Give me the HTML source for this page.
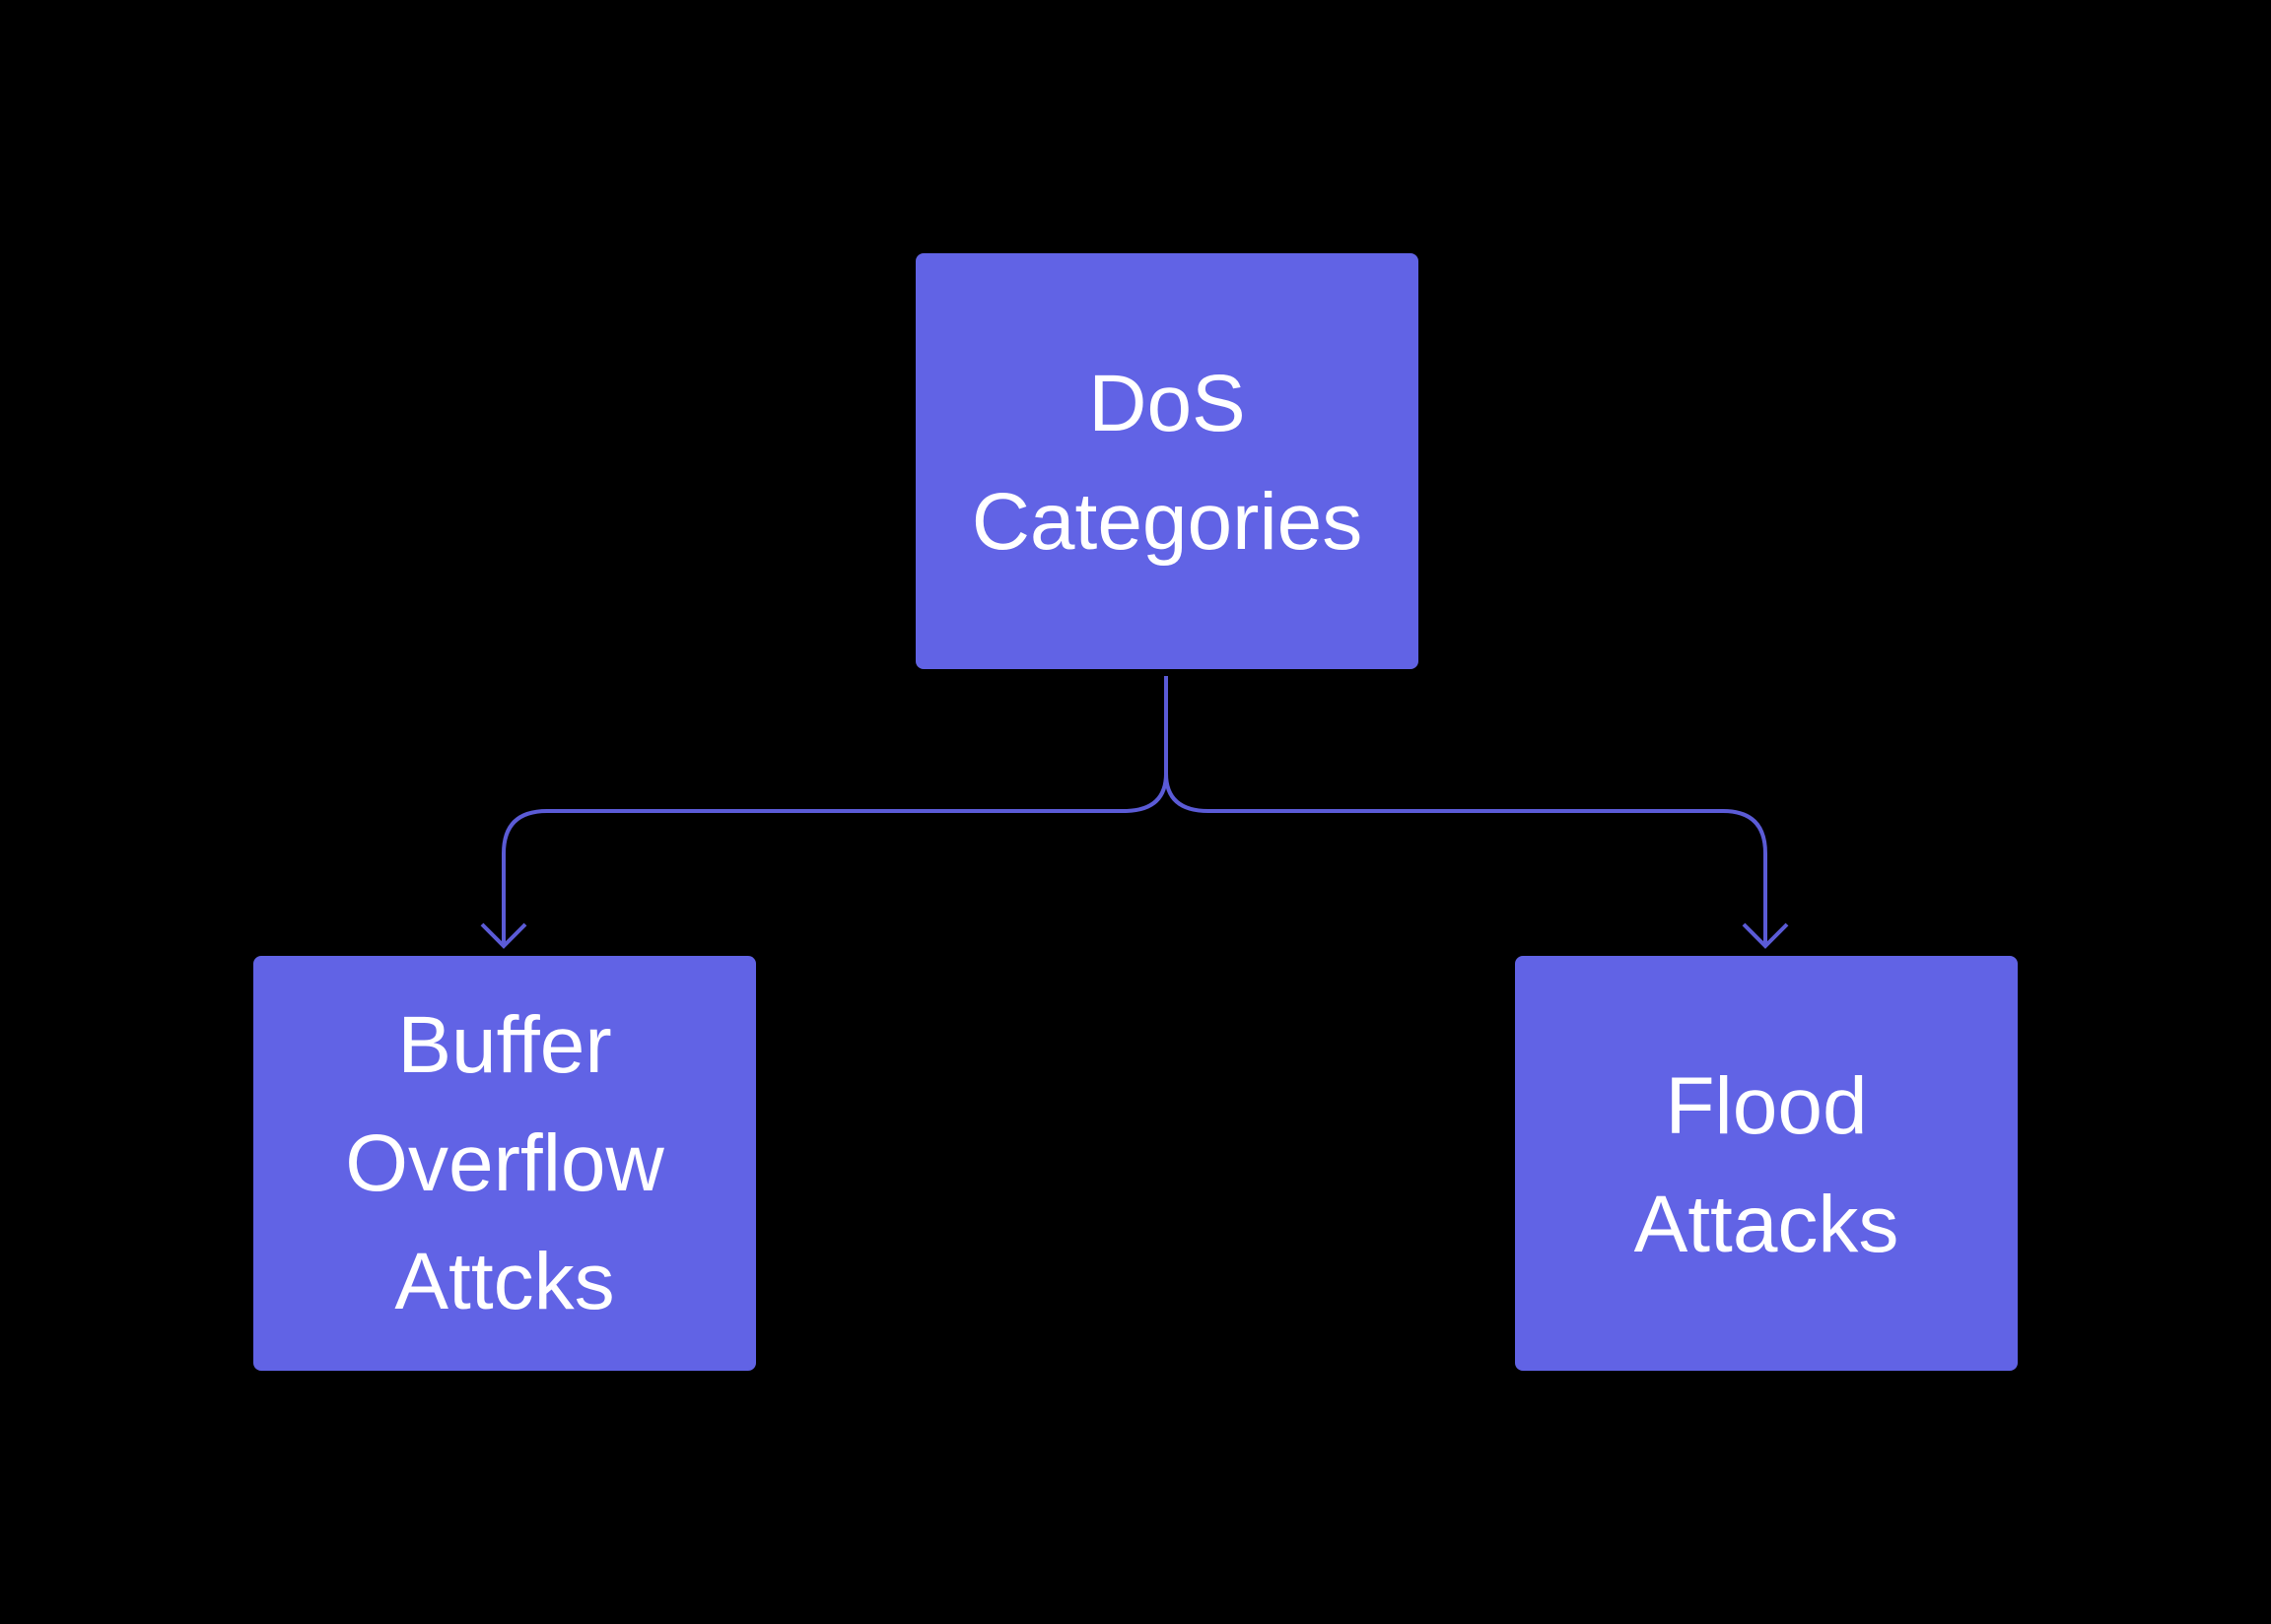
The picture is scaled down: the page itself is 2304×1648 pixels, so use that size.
<!DOCTYPE html>
<html><head><style>
html,body{margin:0;padding:0;background:#000;}
body{width:2304px;height:1648px;position:relative;overflow:hidden;font-family:"Liberation Sans",sans-serif;}
.b{position:absolute;background:#6163e5;border-radius:8px;}
.t{position:absolute;width:510px;text-align:center;color:#fff;font-size:82px;line-height:120px;}
</style></head><body>
<svg width="2304" height="1648" style="position:absolute;left:0;top:0">
<g fill="none" stroke="#5b5bd6" stroke-width="4">
<path d="M1183 686 V785 Q1183 823 1140 823 H555 Q511 823 511 866 V960"/>
<path d="M1183 785 Q1183 823 1226 823 H1748 Q1791 823 1791 866 V960"/>
<path d="M489 938 L511 960 L533 938"/>
<path d="M1769 938 L1791 960 L1813 938"/>
</g></svg>
<div class="b" style="left:929px;top:257px;width:510px;height:422px"></div>
<div class="t" style="left:929px;top:350px">DoS<br>Categories</div>
<div class="b" style="left:257px;top:970px;width:510px;height:421px"></div>
<div class="t" style="left:257px;top:1001px">Buffer<br>Overflow<br>Attcks</div>
<div class="b" style="left:1537px;top:970px;width:510px;height:421px"></div>
<div class="t" style="left:1537px;top:1063px">Flood<br>Attacks</div>
</body></html>
